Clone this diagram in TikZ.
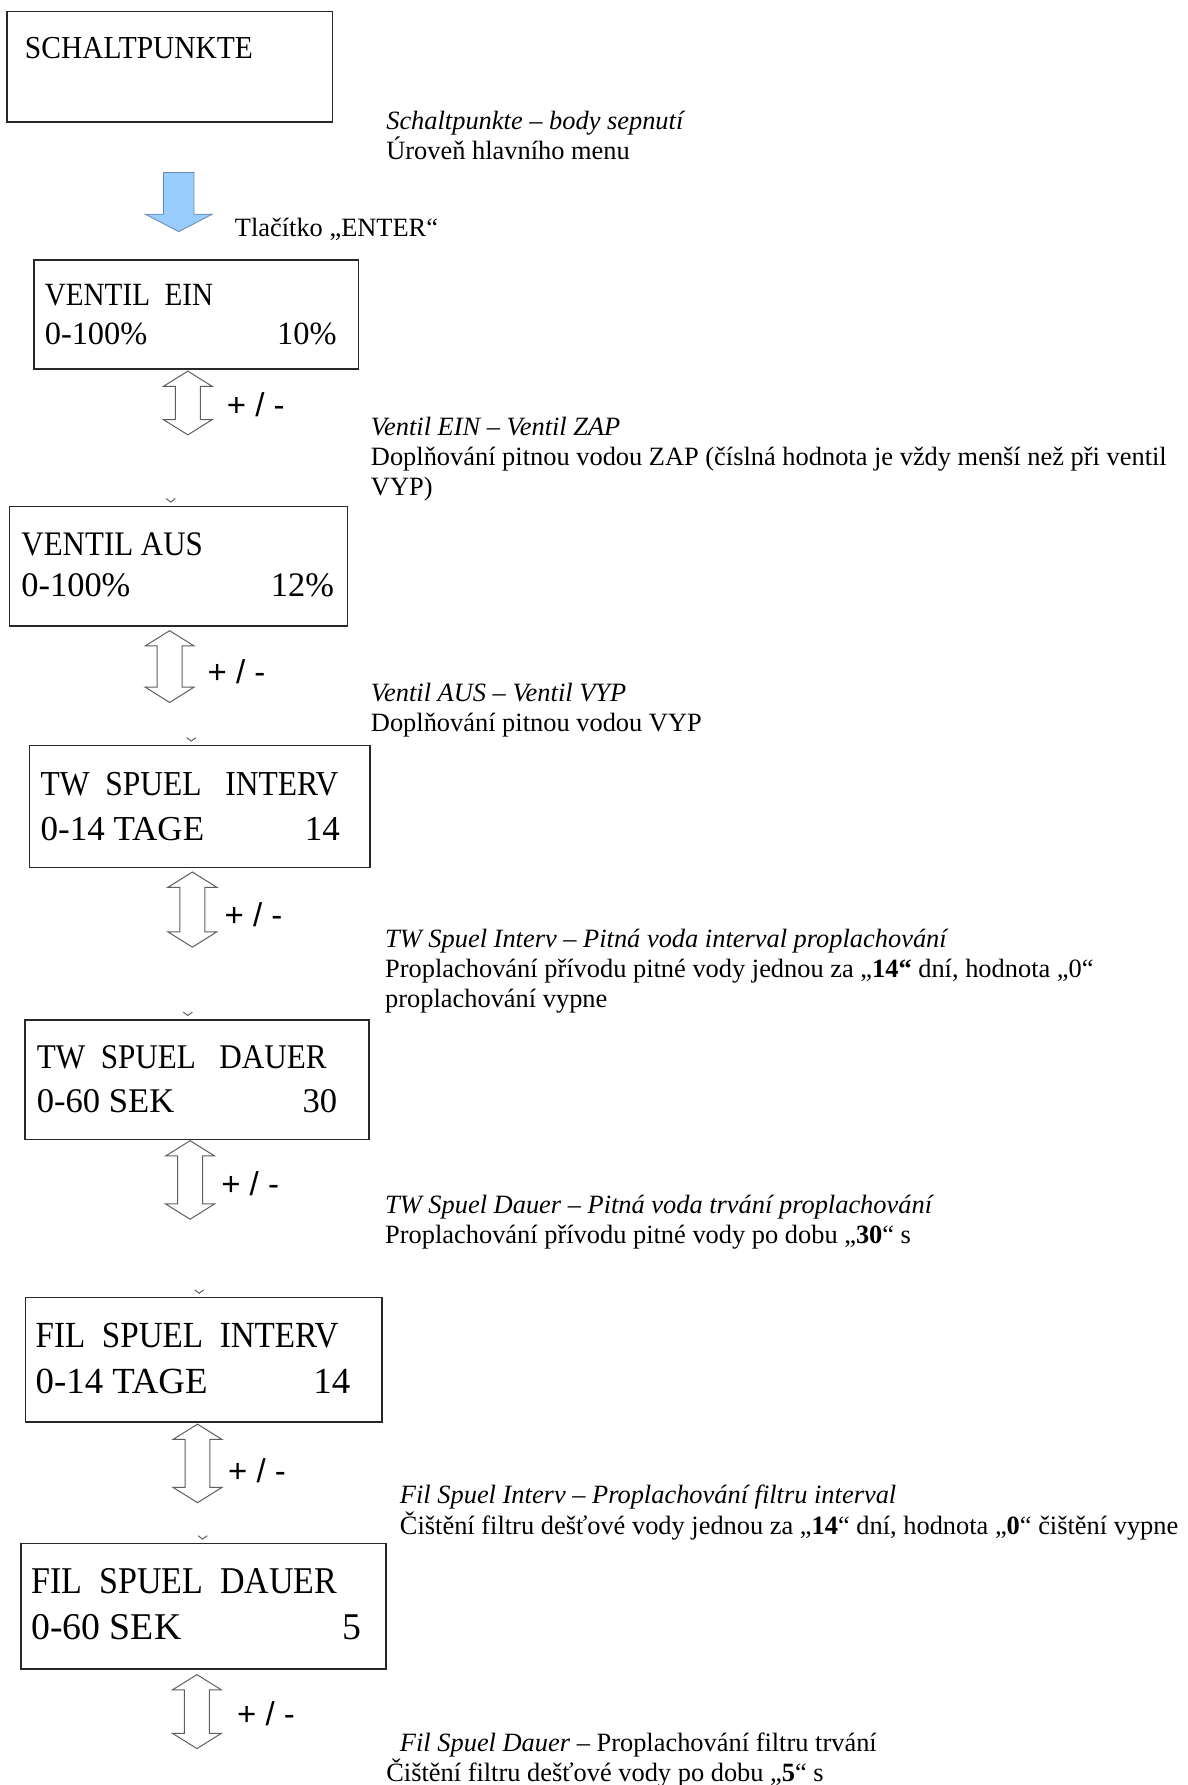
\documentclass[tikz,border=0pt]{standalone}
\usepackage{fontspec}
\setmainfont{Liberation Serif}
\newfontfamily\armfont{Liberation Sans}
\usepackage{graphicx}
\usetikzlibrary{shapes.arrows, fit}
\definecolor{enterblue}{RGB}{153,204,255}
\definecolor{enteredge}{RGB}{105,135,170}
\definecolor{framegray}{RGB}{40,40,40}
\definecolor{arrowgray}{RGB}{95,95,95}
\newcommand{\lcdtitle}[1]{\scalebox{0.9}[1]{#1}}

\begin{document}
\begin{tikzpicture}[x=0.2mm, y=-0.2mm,
  box/.style={draw=framegray, line width=0.7pt, inner sep=0pt},
  lcd/.style={inner sep=0pt, font=\fontsize{#1}{#1}\selectfont},
  note/.style={inner sep=0pt, anchor=base west, align=left, font=\fontsize{13.2}{15}\selectfont},
  updown/.style={double arrow, draw=arrowgray, fill=white, line width=0.5pt, shape border rotate=90,
    minimum width=8.4mm, double arrow head extend=2.1mm, double arrow tip angle=116, inner sep=2.1mm},
  pm/.style={inner sep=0pt, anchor=base west, font=\armfont\fontsize{16.5}{16.5}\selectfont}
]
\path[fill=white, use as bounding box] (0,0) rectangle (1043,1568);

% main menu
\node[box, fit={(6,10) (292,107)}] (schalt) {};
\node[lcd=16, anchor=base west] (schaltT) at (21.6,51) {\scalebox{0.92}[1]{SCHALTPUNKTE}};
\node[note] (capSchalt) at (339,140.5) {\textit{Schaltpunkte – body sepnutí}\\Úroveň hlavního menu};

\node[single arrow, shape border rotate=270, fill=enterblue, draw=enteredge, line width=0.4pt,
  minimum height=10.4mm, minimum width=11.6mm, single arrow head extend=3.2mm,
  single arrow tip angle=125, inner sep=2.6mm] (enter) at (157,174) {};
\node[note] (enterT) at (206,208) {Tlačítko „ENTER“};

% ventil ein
\node[box, fit={(30,228.5) (315,324)}] (ein) {};
\node[lcd=16.2, anchor=base west] (einA) at (39,268) {\lcdtitle{VENTIL\ \ EIN}};
\node[lcd=16.2, anchor=base west] (einB) at (39,303) {0-100\%};
\node[lcd=16.2, anchor=base east] (einV) at (296,303) {10\%};
\node[updown, minimum height=11.2mm] (adj1) at (165,354) {};
\node[pm] (adj1T) at (199,366) {+ / -};
\node[note] (capEin) at (325.5,435) {\textit{Ventil EIN – Ventil ZAP}\\Doplňování pitnou vodou ZAP (číslná hodnota je vždy menší než při ventil\\VYP)};

% ventil aus
\node[box, fit={(8.5,445) (305,550)}] (aus) {};
\node[lcd=17.2, anchor=base west] (ausA) at (18.5,488) {\lcdtitle{VENTIL AUS}};
\node[lcd=17.2, anchor=base west] (ausB) at (18.5,524) {0-100\%};
\node[lcd=17.2, anchor=base east] (ausV) at (293.7,524) {12\%};
\node[updown, minimum height=12.6mm] (adj2) at (149,585.5) {};
\node[pm] (adj2T) at (182,600) {+ / -};
\node[note] (capAus) at (325.5,643) {\textit{Ventil AUS – Ventil VYP}\\Doplňování pitnou vodou VYP};

% tw spuel interv
\node[box, fit={(26,655) (325,762)}] (twint) {};
\node[lcd=17.5, anchor=base west] (twintA) at (35.4,698.6) {\lcdtitle{TW\ \ SPUEL\ \ \ INTERV}};
\node[lcd=17.5, anchor=base west] (twintB) at (35.4,738) {0-14 TAGE};
\node[lcd=17.5, anchor=base east] (twintV) at (299,738) {14};
\node[updown, minimum height=13.2mm] (adj3) at (169,799) {};
\node[pm] (adj3T) at (197,814) {+ / -};
\node[note] (capTwInt) at (338,885) {\textit{TW Spuel Interv – Pitná voda interval proplachování}\\Proplachování přívodu pitné vody jednou za „\textbf{14“} dní, hodnota „0“\\proplachování vypne};

% tw spuel dauer
\node[box, fit={(22,896) (324,1001)}] (twdau) {};
\node[lcd=17.3, anchor=base west] (twdauA) at (32,938.7) {\lcdtitle{TW\ \ SPUEL\ \ \ DAUER}};
\node[lcd=17.3, anchor=base west] (twdauB) at (32,977) {0-60 SEK};
\node[lcd=17.3, anchor=base east] (twdauV) at (296.5,977) {30};
\node[updown, minimum height=13.8mm] (adj4) at (167,1036.5) {};
\node[pm] (adj4T) at (194,1050) {+ / -};
\node[note] (capTwDau) at (338,1092.5) {\textit{TW Spuel Dauer – Pitná voda trvání proplachování}\\Proplachování přívodu pitné vody po dobu „\textbf{30}“ s};

% fil spuel interv
\node[box, fit={(22.5,1140) (335.7,1249)}] (filint) {};
\node[lcd=18.4, anchor=base west] (filintA) at (31,1184) {\lcdtitle{FIL\ \ SPUEL\ \ INTERV}};
\node[lcd=18.4, anchor=base west] (filintB) at (31,1224) {0-14 TAGE};
\node[lcd=18.4, anchor=base east] (filintV) at (308,1224) {14};
\node[updown, minimum height=13.8mm] (adj5) at (173.5,1285.5) {};
\node[pm] (adj5T) at (200,1302) {+ / -};
\node[note] (capFilInt) at (351,1347.5) {\textit{Fil Spuel Interv – Proplachování filtru interval}\\Čištění filtru dešťové vody jednou za „\textbf{14}“ dní, hodnota „\textbf{0}“ čištění vypne};

% fil spuel dauer
\node[box, fit={(18.5,1356) (339,1466)}] (fildau) {};
\node[lcd=18.9, anchor=base west] (fildauA) at (27,1400) {\lcdtitle{FIL\ \ SPUEL\ \ DAUER}};
\node[lcd=18.9, anchor=base west] (fildauB) at (27,1440) {0-60 SEK};
\node[lcd=18.9, anchor=base east] (fildauV) at (318,1440) {5};
\node[updown, minimum height=13mm] (adj6) at (173,1503.5) {};
\node[pm] (adj6T) at (208,1516) {+ / -};
\node[note] (capFilDau) at (339,1564.5) {\hspace*{2.4mm}\textit{Fil Spuel Dauer} – Proplachování filtru trvání\\Čištění filtru dešťové vody po dobu „\textbf{5}“ s};

% cut-off arrow tips above the boxes
\foreach \tx/\ty in {150/440, 168/650, 165/891, 175/1135, 178/1351}
  \draw[arrowgray, line width=0.5pt] (\tx-4,\ty-2) -- (\tx,\ty+1) -- (\tx+4,\ty-2);
\end{tikzpicture}
\end{document}
